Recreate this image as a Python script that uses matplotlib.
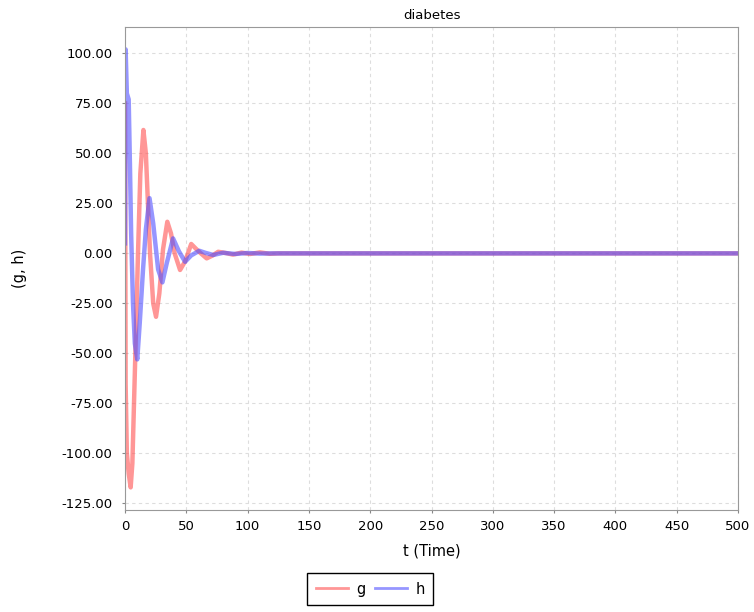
import matplotlib
matplotlib.use("Agg")
import matplotlib.pyplot as plt
from matplotlib.ticker import FormatStrFormatter

# values
t_g = [0, 0.5, 1.5, 3, 4.6, 6, 8, 10.6, 12.5, 15, 17, 20.4, 23, 25.3, 28, 31, 34.5,
       37.5, 40.5, 44.9, 49, 54, 60, 66.6, 71, 76, 82, 88, 95, 102, 110, 118, 125, 500]
g = [75, -65, -100, -110, -117, -105, -60, 0, 40, 61.7, 50, 0, -25, -31.7, -20, 2, 15.8,
     10, 0, -8.3, -4, 4.7, 1, -2.5, -1.2, 0.8, 0.2, -0.6, 0.4, -0.3, 0.5, -0.2, 0, 0]

t_h = [0, 0.5, 1.5, 3, 4, 5, 6.5, 8, 10, 12, 14.7, 17, 20, 23, 27, 30.5, 34, 39.2,
       44, 49, 54, 60.6, 66, 72, 80, 90, 100, 110, 120, 500]
h = [5, 102, 80, 77, 45, 10, -25, -45, -53, -35, -8, 12, 27.6, 15, -8, -14.5, -5, 7.5,
     1, -4.2, -1, 1.3, 0.2, -0.8, 0.3, -0.3, 0.2, -0.1, 0, 0]

x_ticks = list(range(0, 501, 50))
y_ticks = [-125, -100, -75, -50, -25, 0, 25, 50, 75, 100]

plt.rcParams['font.family'] = ['DejaVu Sans']
fig = plt.figure(figsize=(7.54, 6.12), dpi=100)
ax = fig.add_axes([0.1658, 0.1667, 0.813, 0.7892])

ax.plot(t_g, g, color="#ff5050", lw=3.2, alpha=0.6, label="g")
ax.plot(t_h, h, color="#5050ff", lw=3.2, alpha=0.6, label="h")

ax.set_xlim(0, 500)
ax.set_ylim(-128.3, 113.2)
ax.set_xticks(x_ticks)
ax.set_yticks(y_ticks)
ax.yaxis.set_major_formatter(FormatStrFormatter('%.2f'))
ax.tick_params(labelsize=9.5, length=2, color="#888888")
ax.tick_params(axis="y", pad=7)
ax.tick_params(axis="x", pad=5)
ax.grid(True, color="#dddddd", linestyle=(0, (3, 3)), linewidth=0.8)
for s in ax.spines.values():
    s.set_color("#999999")

ax.set_title("diabetes", fontsize=9.5, pad=6)
ax.set_xlabel("t (Time)", fontsize=10.5, labelpad=8)
ax.set_ylabel("(g, h)", fontsize=10.5, labelpad=25)

leg = ax.legend(loc="upper center", bbox_to_anchor=(0.40, -0.130), ncol=2,
                fontsize=10.5, fancybox=False, framealpha=1, edgecolor="black",
                handlelength=2.2, columnspacing=0.6, handletextpad=0.6,
                borderpad=0.6, borderaxespad=0)
leg.get_frame().set_linewidth(1.0)
for line in leg.get_lines():
    line.set_linewidth(2)

fig.savefig("out.png", dpi=100)
